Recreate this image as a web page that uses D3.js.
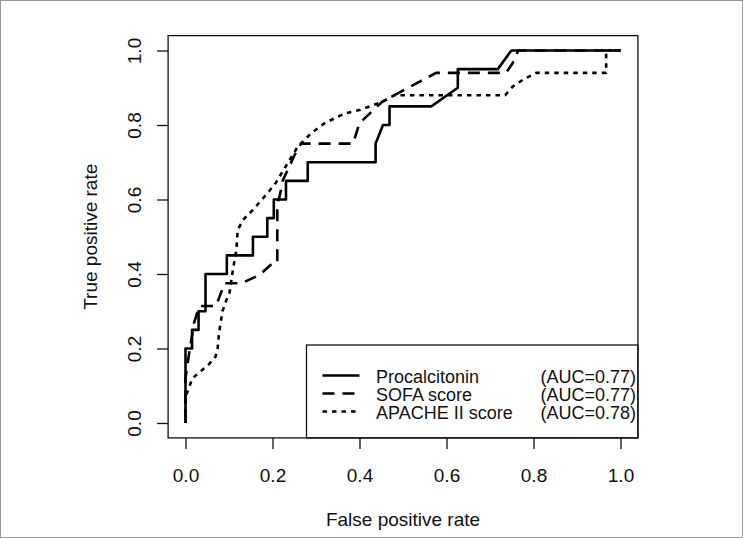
<!DOCTYPE html>
<html>
<head>
<meta charset="utf-8">
<script src="https://cdn.jsdelivr.net/npm/d3@7"></script>
<style>
  body { margin: 0; background: #fff; }
  svg { display: block; font-family: "Liberation Sans", Arial, sans-serif; }
</style>
</head>
<body>
<svg width="743" height="538"></svg>
<script>
// ROC curve data
var xTicks = [0, 0.2, 0.4, 0.6, 0.8, 1.0];
var yTicks = [0, 0.2, 0.4, 0.6, 0.8, 1.0];

var pctFpr = [0,0,0.015,0.015,0.03,0.03,0.046,0.046,0.095,0.095,0.155,0.155,0.188,0.188,0.203,0.203,0.231,0.231,0.281,0.281,0.437,0.437,0.454,0.469,0.469,0.565,0.626,0.626,0.718,0.749,1];
var pctTpr = [0,0.2,0.2,0.25,0.25,0.3,0.3,0.4,0.4,0.45,0.45,0.5,0.5,0.55,0.55,0.6,0.6,0.65,0.65,0.7,0.7,0.75,0.8,0.8,0.85,0.85,0.9,0.95,0.95,1,1];

var sofaFpr = [0,0,0.01,0.02,0.032,0.07,0.09,0.128,0.17,0.2,0.211,0.211,0.216,0.224,0.255,0.266,0.385,0.4,0.453,0.576,0.737,0.752,0.765,1];
var sofaTpr = [0,0.12,0.2,0.27,0.314,0.314,0.375,0.375,0.397,0.429,0.43,0.59,0.607,0.652,0.73,0.75,0.75,0.805,0.863,0.94,0.94,0.966,1,1];

var apacheFpr = [0,0,0.009,0.016,0.039,0.054,0.069,0.074,0.077,0.085,0.094,0.101,0.109,0.117,0.12,0.132,0.155,0.178,0.205,0.228,0.258,0.289,0.32,0.366,0.4,0.454,0.48,0.735,0.752,0.775,0.806,0.967,0.967,1];
var apacheTpr = [0,0.07,0.098,0.12,0.143,0.158,0.178,0.201,0.241,0.3,0.33,0.348,0.411,0.464,0.518,0.545,0.572,0.603,0.64,0.684,0.742,0.778,0.805,0.831,0.84,0.863,0.88,0.88,0.903,0.921,0.94,0.94,1,1];

var seriesNames = ["Procalcitonin", "SOFA score", "APACHE II score"];
var seriesAuc = ["(AUC=0.77)", "(AUC=0.77)", "(AUC=0.78)"];

var svg = d3.select("svg"),
    width = +svg.attr("width"),
    height = +svg.attr("height");

var x = d3.scaleLinear().domain([0, 1]).range([185.5, 620.5]);
var y = d3.scaleLinear().domain([0, 1]).range([423, 50.5]);

var fontSize = "19px",
    legendFont = "18px",
    ink = "#111";

// outer frame of the picture
svg.append("rect")
    .attr("x", 0.5).attr("y", 0.5)
    .attr("width", width - 1).attr("height", height - 1)
    .style("fill", "none").style("stroke", "#999").style("stroke-width", 1);

// R-style 4% padding around the data range
var boxL = x(-0.04), boxR = x(1.04), boxT = y(1.04), boxB = y(-0.04);

var xAxis = svg.append("g")
    .attr("transform", "translate(0," + boxB + ")")
    .call(d3.axisBottom(x).tickValues(xTicks).tickFormat(d3.format(".1f")).tickSize(11));
xAxis.select(".domain").remove();
xAxis.selectAll("line").style("stroke", ink).style("stroke-width", 1.3);
xAxis.selectAll("text")
    .attr("y", 44).attr("dy", null)
    .style("font-size", fontSize).style("fill", ink);

var yAxis = svg.append("g")
    .attr("transform", "translate(" + boxL + ",0)")
    .call(d3.axisLeft(y).tickValues(yTicks).tickFormat(d3.format(".1f")).tickSize(11));
yAxis.select(".domain").remove();
yAxis.selectAll("line").style("stroke", ink).style("stroke-width", 1.3);
yAxis.selectAll("text")
    .attr("x", null).attr("dy", null)
    .attr("transform", "translate(-27,0) rotate(-90)")
    .attr("text-anchor", "middle")
    .style("font-size", fontSize).style("fill", ink);

// axis titles
svg.append("text")
    .attr("x", (boxL + boxR) / 2).attr("y", 526)
    .attr("text-anchor", "middle")
    .style("font-size", fontSize).style("fill", ink)
    .text("False positive rate");

svg.append("text")
    .attr("transform", "translate(97," + (boxT + boxB) / 2 + ") rotate(-90)")
    .attr("text-anchor", "middle")
    .style("font-size", fontSize).style("fill", ink)
    .text("True positive rate");

// curves
var line = d3.line()
    .x(function(d) { return x(d[0]); })
    .y(function(d) { return y(d[1]); });

var dashes = [null, "12,8", "4.5,5"];
var curves = [
  d3.zip(pctFpr, pctTpr),
  d3.zip(sofaFpr, sofaTpr),
  d3.zip(apacheFpr, apacheTpr)
];

svg.append("g")
    .selectAll("path")
    .data(curves)
    .enter().append("path")
    .attr("d", line)
    .style("fill", "none")
    .style("stroke", "#000")
    .style("stroke-width", 2.6)
    .style("stroke-linejoin", "round")
    .style("stroke-dasharray", function(d, i) { return dashes[i]; });

// legend, bottom right inside the box
var legL = 306.5, legT = 345;
svg.append("rect")
    .attr("x", legL).attr("y", legT)
    .attr("width", boxR - legL).attr("height", boxB - legT)
    .style("fill", "#fff").style("stroke", ink).style("stroke-width", 1.3);

var rowY = [382.5, 400.5, 418.5];
var leg = svg.append("g").selectAll("g")
    .data(seriesNames)
    .enter().append("g");

leg.append("line")
    .attr("x1", 322.5).attr("x2", 359.5)
    .attr("y1", function(d, i) { return rowY[i] - 7; })
    .attr("y2", function(d, i) { return rowY[i] - 7; })
    .style("stroke", "#000")
    .style("stroke-width", 2.6)
    .style("stroke-dasharray", function(d, i) { return dashes[i]; });

leg.append("text")
    .attr("x", 376)
    .attr("y", function(d, i) { return rowY[i]; })
    .style("font-size", legendFont).style("fill", ink)
    .text(function(d) { return d; });

leg.append("text")
    .attr("x", 636)
    .attr("y", function(d, i) { return rowY[i]; })
    .attr("text-anchor", "end")
    .style("font-size", legendFont).style("fill", ink)
    .text(function(d, i) { return seriesAuc[i]; });

// plot box on top
svg.append("rect")
    .attr("x", boxL).attr("y", boxT)
    .attr("width", boxR - boxL).attr("height", boxB - boxT)
    .style("fill", "none").style("stroke", ink).style("stroke-width", 1.3);
</script>
</body>
</html>
